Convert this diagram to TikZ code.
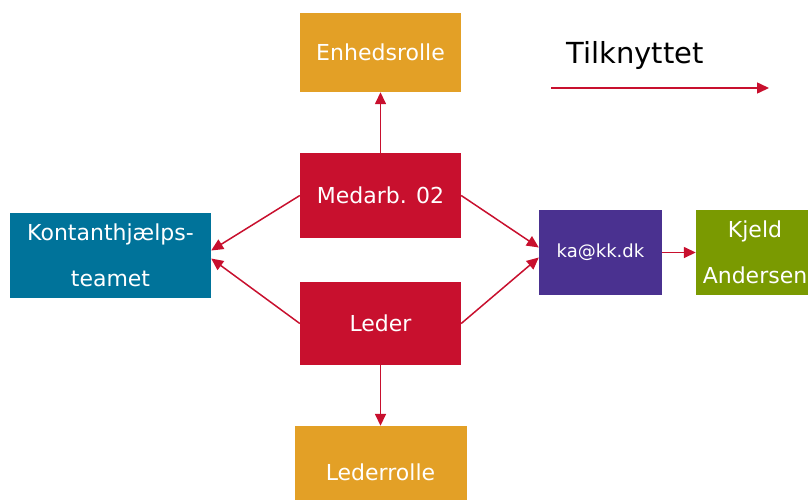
\documentclass[tikz,border=0pt]{standalone}
\usepackage{fontspec}
\setmainfont{DejaVu Sans}
\usetikzlibrary{arrows.meta}
\definecolor{orangeb}{HTML}{E3A026}
\definecolor{redb}{HTML}{C8102E}
\definecolor{tealb}{HTML}{00739A}
\definecolor{purpleb}{HTML}{4A3190}
\definecolor{greenb}{HTML}{7A9A01}
\definecolor{arr}{HTML}{C8102E}
\tikzset{
  box/.style={draw=none, inner sep=0pt, text=white, align=center,
    font=\fontsize{22}{46}\selectfont},
  conn/.style={draw=arr, line width=1.5pt, -{Triangle[length=12pt,width=11pt]}},
}
\begin{document}
\begin{tikzpicture}[x=1pt,y=-1pt]
\useasboundingbox (0,0) rectangle (808,499);
\clip (0,0) rectangle (808,499);
\node[box, fill=orangeb, minimum width=161pt, minimum height=79pt] (enh) at (380.5,52.5) {Enhedsrolle};
\node[box, fill=redb, minimum width=161pt, minimum height=85pt] (med) at (380.5,195.5) {Medarb. 02};
\node[box, fill=redb, minimum width=161pt, minimum height=83pt] (led) at (380.5,323.5) {Leder};
\node[box, fill=orangeb, minimum width=172pt, minimum height=92pt] (lrol) at (380.5,472) {Lederrolle};
\node[box, fill=tealb, minimum width=201pt, minimum height=85pt] (kon) at (110.5,255.5) {Kontanthjælps-\\teamet};
\node[box, fill=purpleb, minimum width=123pt, minimum height=85pt, font=\fontsize{18}{22}\selectfont] (ka) at (600.5,252.5) {ka@kk.dk};
\node[box, fill=greenb, minimum width=118pt, minimum height=85pt] (kj) at (755,252.5) {Kjeld\\Andersen};
\node[font=\fontsize{29}{34}\selectfont, text=black, inner sep=0pt] (leg) at (635,55) {Tilknyttet};
\coordinate (la) at (551,88);
\coordinate (lb) at (769,88);
\draw[conn] (la) -- (lb);
\draw[conn] (med.north) -- (enh.south);
\draw[conn] (led.south) -- (lrol.north);
\draw[conn] (med.west) -- ([yshift=5pt]kon.east);
\draw[conn] (led.west) -- ([yshift=-3pt]kon.east);
\draw[conn] (med.east) -- ([yshift=5pt]ka.west);
\draw[conn] (led.east) -- ([yshift=-5pt]ka.west);
\draw[conn] (ka.east) -- (kj.west);
\end{tikzpicture}
\end{document}
